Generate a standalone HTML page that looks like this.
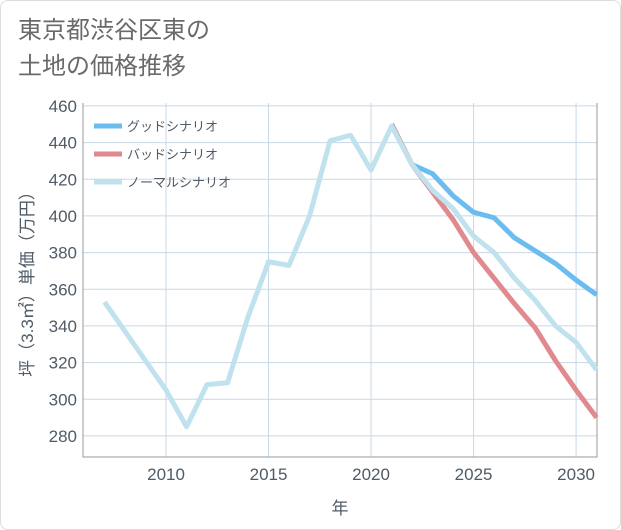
<!DOCTYPE html>
<html><head><meta charset="utf-8"><style>
body{margin:0;background:#fff;}
#wrap{position:relative;width:621px;height:530px;font-family:"Liberation Sans","Noto Sans CJK JP",sans-serif;}
#frame{position:absolute;left:0;top:0;width:619px;height:528px;border:1px solid #ddd;border-radius:8px;}
.title{position:absolute;left:18px;font-size:24px;color:#6a6a6a;line-height:1;}
</style></head><body>
<div id="wrap">
<div id="frame"></div>
<div class="title" style="top:19px">東京都渋谷区東の</div>
<div class="title" style="top:55px">土地の価格推移</div>
<svg id="chart" width="621" height="530" style="position:absolute;left:0;top:0"></svg>
</div>
<script>
const years = [2007,2008,2009,2010,2011,2012,2013,2014,2015,2016,2017,2018,2019,2020,2021,2022,2023,2024,2025,2026,2027,2028,2029,2030,2031];
const normalValues = [353,337,321,305,285,308,309,345,375,373,400,441,444,425,449,428,414,404,389,380,366,354,340,331,316];
const futureYears = [2021,2022,2023,2024,2025,2026,2027,2028,2029,2030,2031];
const goodValues = [450,428,423,411,402,399,388,381,374,365,357];
const badValues = [450,428,413,398,380,366,352,339,321,305,290];
const yTicks = [280,300,320,340,360,380,400,420,440,460];
const xTicks = [2010,2015,2020,2025,2030];
const seriesNames = ["グッドシナリオ","バッドシナリオ","ノーマルシナリオ"];

const L=83,R=597,T=103,B=457;
const x0=2005.95,x1=2031.02,y0=268.5,y1=461.6;
const sx=v=>L+(v-x0)/(x1-x0)*(R-L);
const sy=v=>B-(v-y0)/(y1-y0)*(B-T);
const svg=document.getElementById('chart');
const NS='http://www.w3.org/2000/svg';
const TXT='#4f5b66';
function mk(tag,attrs,parent){const e=document.createElementNS(NS,tag);for(const k in attrs)e.setAttribute(k,attrs[k]);(parent||svg).appendChild(e);return e;}

yTicks.forEach(t=>{
  const g=mk('line',{x1:L,x2:R,y1:sy(t),y2:sy(t),stroke:'#c8d8e6','stroke-width':1});
  
  
  const tx=mk('text',{x:L-6,y:sy(t)+6,'text-anchor':'end','font-size':17,fill:TXT});
  tx.textContent=t;
  
  
});
xTicks.forEach(t=>{
  const g=mk('line',{x1:sx(t),x2:sx(t),y1:T,y2:B,stroke:'#c8d8e6','stroke-width':1});
  
  
  const tx=mk('text',{x:sx(t),y:B+23,'text-anchor':'middle','font-size':17,fill:TXT});
  tx.textContent=t;
  
  
});
const ax=mk('path',{d:`M${L},${T}V${B}H${R}V${T}`,fill:'none',stroke:'#999','stroke-width':1});



function line(xs,vs,color,name){
  const p=mk('polyline',{points:xs.map((x,i)=>sx(x)+','+sy(vs[i])).join(' '),fill:'none',stroke:color,'stroke-width':5,'stroke-linejoin':'round'});
  
  
}
line(futureYears,goodValues,'#6bbdf0','good-scenario-line');
line(futureYears,badValues,'#e08a8f','bad-scenario-line');
line(years,normalValues,'#c0e1ee','normal-scenario-line');

const colors=['#6bbdf0','#e08a8f','#c0e1ee'];
seriesNames.forEach((n,i)=>{
  const y=126+i*28;
  const s=mk('line',{x1:94,x2:122,y1:y,y2:y,stroke:colors[i],'stroke-width':5});
  
  
  const tx=mk('text',{x:127,y:y+5,'font-size':13,fill:TXT});
  tx.textContent=n;
  
  
});
const xt=mk('text',{x:(L+R)/2,y:514,'text-anchor':'middle','font-size':17,fill:TXT});
xt.textContent='年';


const yt=mk('text',{x:0,y:0,'text-anchor':'middle','font-size':17,fill:TXT,transform:`translate(33,${(T+B)/2}) rotate(-90)`});
yt.textContent='坪（3.3㎡）単価（万円）';


</script>
</body></html>
